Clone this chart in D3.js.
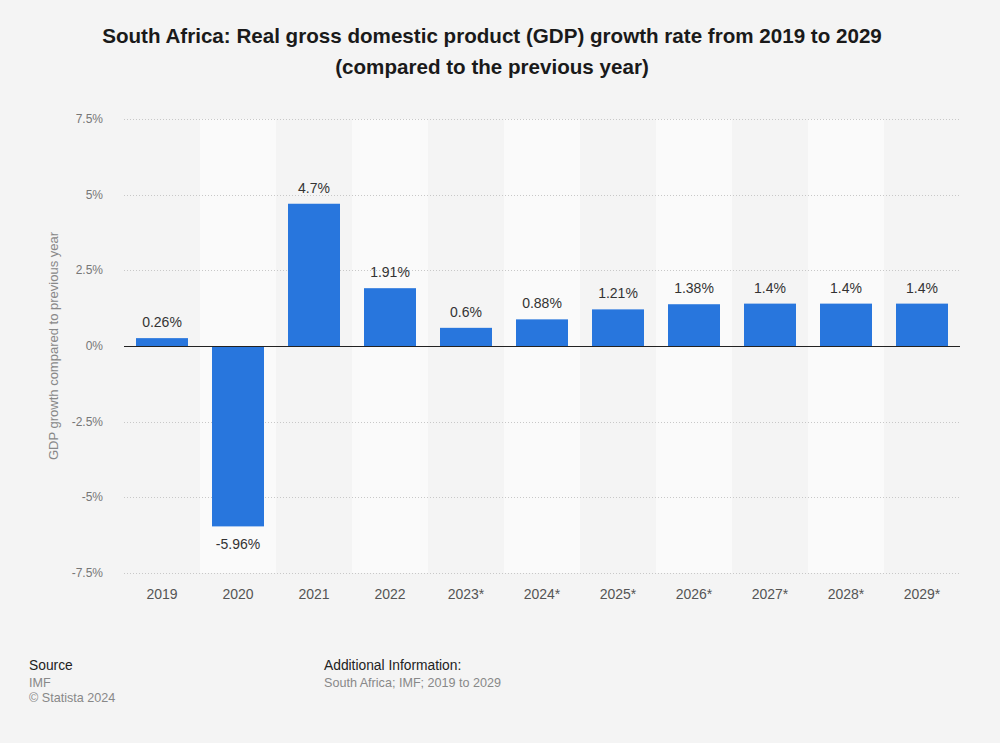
<!DOCTYPE html>
<html>
<head>
<meta charset="utf-8">
<script src="https://cdn.jsdelivr.net/npm/d3@7"></script>
<style>
  html, body { margin: 0; padding: 0; background: #f4f4f4; }
  svg { display: block; font-family: "Liberation Sans", Arial, sans-serif; }
</style>
</head>
<body>
<svg id="chart" width="1000" height="743"></svg>
<script>
const categories = ["2019", "2020", "2021", "2022", "2023*", "2024*", "2025*", "2026*", "2027*", "2028*", "2029*"];
const values = [0.26, -5.96, 4.7, 1.91, 0.6, 0.88, 1.21, 1.38, 1.4, 1.4, 1.4];
const valueLabels = ["0.26%", "-5.96%", "4.7%", "1.91%", "0.6%", "0.88%", "1.21%", "1.38%", "1.4%", "1.4%", "1.4%"];
const yTicks = [-7.5, -5, -2.5, 0, 2.5, 5, 7.5];
const yTickLabels = ["-7.5%", "-5%", "-2.5%", "0%", "2.5%", "5%", "7.5%"];
const titleLines = ["South Africa: Real gross domestic product (GDP) growth rate from 2019 to 2029", "(compared to the previous year)"];
const yAxisTitle = "GDP growth compared to previous year";

const svg = d3.select("#chart");
const W = 1000, H = 743;
const plot = { left: 124, right: 960, top: 119, bottom: 573 };

svg.append("rect").attr("width", W).attr("height", H).attr("fill", "#f4f4f4");

// Title
svg.append("g").selectAll("text").data(titleLines).join("text")
  .attr("x", 492).attr("y", (d, i) => 43 + i * 31)
  .attr("text-anchor", "middle")
  .attr("font-size", 20.6).attr("font-weight", "bold").attr("fill", "#1a1a1a")
  .text(d => d);

const xStripe = d3.scaleBand().domain(categories).range([plot.left, plot.right]).padding(0);
const xBar = d3.scaleBand().domain(categories).range([plot.left, plot.right]).paddingInner(0.316).paddingOuter(0.158);
const y = d3.scaleLinear().domain([-7.5, 7.5]).range([plot.bottom, plot.top]);

// Alternating stripes
svg.append("g").selectAll("rect").data(categories.filter((d, i) => i % 2 === 1)).join("rect")
  .attr("x", d => xStripe(d)).attr("width", xStripe.bandwidth())
  .attr("y", plot.top).attr("height", plot.bottom - plot.top)
  .attr("fill", "#fafafa");

// Gridlines
svg.append("g").selectAll("line").data(yTicks.filter(t => t !== 0)).join("line")
  .attr("x1", plot.left).attr("x2", plot.right)
  .attr("y1", d => Math.round(y(d)) + 0.5).attr("y2", d => Math.round(y(d)) + 0.5)
  .attr("stroke", "#c8c8c8").attr("stroke-width", 1).attr("stroke-dasharray", "1,2");

// Y tick labels
svg.append("g").selectAll("text").data(yTicks).join("text")
  .attr("x", 103).attr("y", d => y(d) + 4)
  .attr("text-anchor", "end").attr("font-size", 12).attr("fill", "#777")
  .text((d, i) => yTickLabels[i]);

// Y axis title
svg.append("text")
  .attr("transform", `translate(58, ${y(0)}) rotate(-90)`)
  .attr("text-anchor", "middle").attr("font-size", 13).attr("fill", "#888")
  .text(yAxisTitle);

// Bars
svg.append("g").selectAll("rect").data(values).join("rect")
  .attr("x", (d, i) => xBar(categories[i])).attr("width", xBar.bandwidth())
  .attr("y", d => y(Math.max(0, d))).attr("height", d => Math.abs(y(d) - y(0)))
  .attr("fill", "#2876dd");

// Zero line
svg.append("line")
  .attr("x1", plot.left).attr("x2", plot.right)
  .attr("y1", Math.round(y(0)) + 0.5).attr("y2", Math.round(y(0)) + 0.5)
  .attr("stroke", "#222").attr("stroke-width", 1.2);

// Value labels
svg.append("g").selectAll("text").data(values).join("text")
  .attr("x", (d, i) => xBar(categories[i]) + xBar.bandwidth() / 2)
  .attr("y", d => d >= 0 ? y(d) - 11 : y(d) + 23)
  .attr("text-anchor", "middle").attr("font-size", 14).attr("fill", "#333")
  .text((d, i) => valueLabels[i]);

// X labels
svg.append("g").selectAll("text").data(categories).join("text")
  .attr("x", d => xStripe(d) + xStripe.bandwidth() / 2).attr("y", 599)
  .attr("text-anchor", "middle").attr("font-size", 14).attr("fill", "#555")
  .text(d => d);

// Footer
const foot = svg.append("g").attr("font-size", 12.6);
foot.append("text").attr("x", 29).attr("y", 670).attr("font-size", 13.8).attr("fill", "#222").text("Source");
foot.append("text").attr("x", 29).attr("y", 687).attr("fill", "#888").text("IMF");
foot.append("text").attr("x", 29).attr("y", 702).attr("fill", "#888").text("© Statista 2024");
foot.append("text").attr("x", 324).attr("y", 670).attr("font-size", 13.8).attr("fill", "#222").text("Additional Information:");
foot.append("text").attr("x", 324).attr("y", 687).attr("fill", "#888").text("South Africa; IMF; 2019 to 2029");
</script>
</body>
</html>
